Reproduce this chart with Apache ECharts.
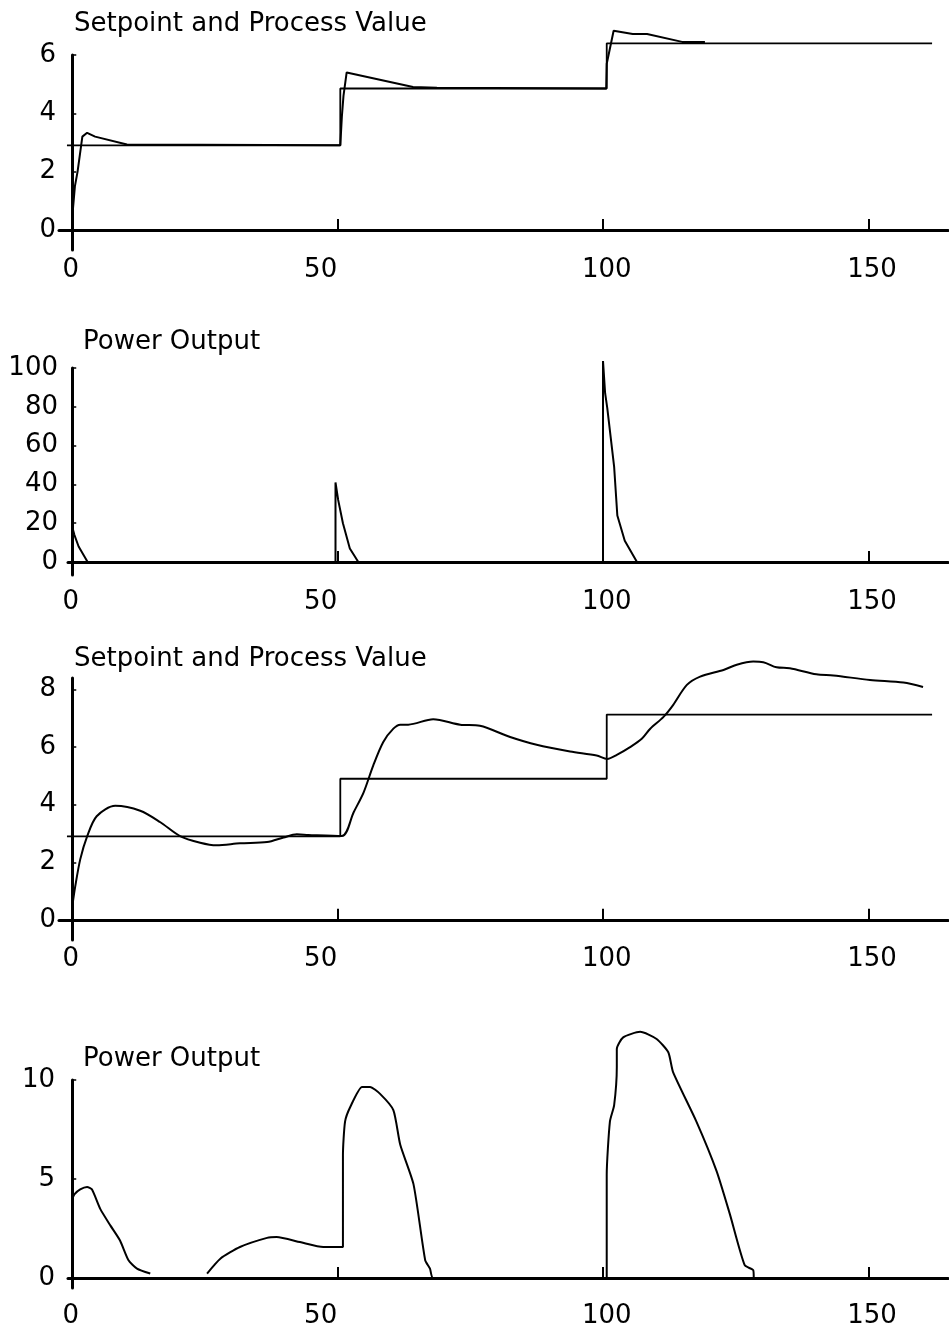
<!DOCTYPE html>
<html>
<head>
<meta charset="utf-8">
<script src="https://cdn.jsdelivr.net/npm/echarts@6/dist/echarts.min.js"></script>
<style>
  html, body { margin: 0; padding: 0; background: #fff; }
  #main { width: 949px; height: 1331px; }
</style>
</head>
<body>
<div id="main"></div>
<script>
// tick labels (the printed labels sit a little off their ticks in the original)
const xTicks = [0, 50, 100, 150];
const xLabelPos = [-0.3, 46.8, 100.7, 150.7];
const xTickMarks = [50, 100, 150];
const yTicks1 = [0, 2, 4, 6];
const yTicks2 = [0, 20, 40, 60, 80, 100];
const yTicks3 = [0, 2, 4, 6, 8];
const yTicks4 = [0, 5, 10];

const titleTop = "Setpoint and Process Value";
const titlePower = "Power Output";

// panel 1 : fast response
const setpoint1 = [[-1, 2.9], [50.5, 4.85], [100.7, 6.4], [162, 6.4]];
const process1 = [
  [0, 0.45], [0.5, 1.5], [1.0, 2.0], [1.9, 3.2], [2.8, 3.33], [4.3, 3.2], [10.3, 2.93],
  [50.5, 2.9], [50.8, 3.9], [51.1, 4.6], [51.7, 5.4], [64.2, 4.9], [68.7, 4.88],
  [100.6, 4.85], [100.7, 5.7], [102, 6.83], [105.6, 6.72], [108.3, 6.72], [114.9, 6.45], [119.2, 6.45]
];
const power1 = [
  [0, 18], [0.4, 14], [1.2, 8], [2.9, 0], [49.6, 0], [49.6, 41], [50.1, 32], [51, 20], [52.3, 7], [53.9, 0],
  [100, 0], [100, 103.6], [100.4, 87], [100.8, 79.5], [102.1, 49], [102.7, 24], [104.1, 11], [106.4, 0]
];

// panel 2 : slow response
const setpoint2 = [[-1, 2.9], [50.5, 4.9], [100.7, 7.13], [162, 7.13]];
const process2 = [
  [0, 0.47], [0.56, 1.16], [1.5, 2.1], [2.8, 2.9], [4.6, 3.6], [8.1, 3.96], [12.8, 3.79], [16.6, 3.39],
  [20.3, 2.91], [24.1, 2.68], [27.2, 2.59], [31.6, 2.66], [36.7, 2.7], [39.8, 2.86], [42.3, 2.97], [44.5, 2.95],
  [50.8, 2.91], [53, 3.73], [54.9, 4.43], [56.7, 5.36], [58.6, 6.18], [60.5, 6.64], [61.8, 6.78], [63.3, 6.78],
  [68, 6.97], [73.1, 6.78], [76.8, 6.74], [82.5, 6.35], [87.5, 6.08], [93.8, 5.85], [98.8, 5.71], [100.8, 5.59],
  [102.6, 5.73], [105.1, 6.0], [107.3, 6.29], [108.9, 6.64], [111.4, 7.05], [113.2, 7.46], [115.8, 8.16],
  [118.3, 8.45], [122.7, 8.68], [125.2, 8.86], [128.3, 8.97], [130.2, 8.95], [132.7, 8.77], [135.2, 8.74],
  [140.2, 8.53], [143.4, 8.49], [150.3, 8.33], [156.6, 8.24], [160.3, 8.09]
];
const power2 = [
  [0, 4.0], [0.4, 4.23], [1.5, 4.48], [2.8, 4.6], [3.7, 4.48], [5.3, 3.48], [7.2, 2.65], [9.0, 1.9],
  [10.6, 0.9], [12.2, 0.48], [14.7, 0.23], null,
  [25.4, 0.23], [27.9, 0.98], [31.6, 1.57], [36.7, 2.03], [38.5, 2.07], [42.9, 1.82], [47.3, 1.57], [51, 1.57],
  [51, 6.2], [51.4, 7.9], [52.4, 8.65], [54.6, 9.65], [56.1, 9.65], [58, 9.3], [60.5, 8.48], [61.8, 6.73],
  [64.3, 4.73], [66.5, 0.9], [67.4, 0.48], [68, 0],
  [100.7, 0], [100.7, 5.2], [101.3, 7.9], [102.1, 8.73], [102.6, 10.65], [102.6, 11.57], [103.8, 12.15],
  [107, 12.43], [110.1, 12.07], [112.3, 11.4], [113.2, 10.4], [117.6, 7.9], [121.4, 5.4], [123.9, 3.23],
  [126.7, 0.65], [128.3, 0.4], [128.4, 0]
];

let myChart = echarts.init(document.getElementById("main"));

const font = "DejaVu Sans";

// label text = nearest printed tick value
function xLabelText(v) {
  let best = xTicks[0];
  xTicks.forEach(function (t) { if (Math.abs(t - v) < Math.abs(best - v)) best = t; });
  return String(best);
}

function makeX(idx, min, labelMargin) {
  return {
    gridIndex: idx,
    type: "value",
    min: min,
    max: 165,
    splitLine: { show: false },
    axisLine: { show: true, onZero: true, lineStyle: { color: "#000", width: 3 } },
    axisTick: { show: true, inside: true, length: 11, customValues: xTickMarks, lineStyle: { color: "#000", width: 2 } },
    axisLabel: { customValues: xLabelPos, formatter: xLabelText, margin: labelMargin, color: "#000", fontSize: 26, fontFamily: font }
  };
}
function makeY(idx, min, max, ticks, labelMargin) {
  return {
    gridIndex: idx,
    type: "value",
    min: min,
    max: max,
    splitLine: { show: false },
    axisLine: { show: true, onZero: true, lineStyle: { color: "#000", width: 3 } },
    axisTick: { show: true, inside: true, length: 4, customValues: ticks, lineStyle: { color: "#000", width: 1.5 } },
    axisLabel: { customValues: ticks, margin: labelMargin, color: "#000", fontSize: 26, fontFamily: font }
  };
}
function makeLine(idx, data, opts) {
  return Object.assign({
    type: "line",
    xAxisIndex: idx,
    yAxisIndex: idx,
    data: data,
    showSymbol: false,
    clip: false,
    connectNulls: false,
    lineStyle: { color: "#000", width: 2 },
    itemStyle: { color: "#000" }
  }, opts || {});
}

const titleStyle = { fontSize: 26, fontWeight: "normal", color: "#000", fontFamily: font };

let option = {
  animation: false,
  backgroundColor: "#fff",
  textStyle: { fontFamily: font },
  title: [
    { text: titleTop, left: 74, top: 11, padding: 0, textStyle: titleStyle },
    { text: titlePower, left: 83, top: 329, padding: 0, textStyle: titleStyle },
    { text: titleTop, left: 74, top: 646, padding: 0, textStyle: titleStyle },
    { text: titlePower, left: 83, top: 1046, padding: 0, textStyle: titleStyle }
  ],
  grid: [
    { left: 59, right: 1, top: 55, height: 195, containLabel: false, outerBoundsMode: "none" },
    { left: 68, right: 1, top: 368, height: 207, containLabel: false, outerBoundsMode: "none" },
    { left: 59, right: 1, top: 678, height: 262, containLabel: false, outerBoundsMode: "none" },
    { left: 68, right: 1, top: 1080, height: 208, containLabel: false, outerBoundsMode: "none" }
  ],
  xAxis: [makeX(0, -2.5, 7), makeX(1, -0.8, 14), makeX(2, -2.5, 6), makeX(3, -0.8, 15)],
  yAxis: [
    makeY(0, -0.69, 6, yTicks1, 3),
    makeY(1, -6.7, 100, yTicks2, 10),
    makeY(2, -0.7, 8.4, yTicks3, 3),
    makeY(3, -0.5, 10, yTicks4, 13)
  ],
  series: [
    makeLine(0, setpoint1, { step: "end", lineStyle: { color: "#000", width: 1.8 } }),
    makeLine(0, process1),
    makeLine(1, power1),
    makeLine(2, setpoint2, { step: "end", lineStyle: { color: "#000", width: 1.8 } }),
    makeLine(2, process2, { smooth: 0.3 }),
    makeLine(3, power2, { smooth: 0.2 })
  ]
};

myChart.setOption(option);
</script>
</body>
</html>
